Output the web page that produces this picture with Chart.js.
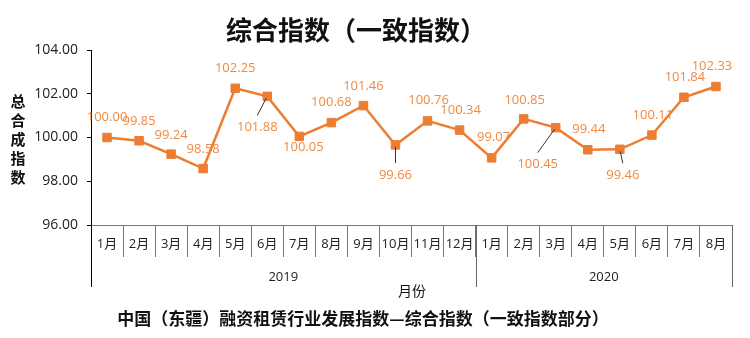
<!DOCTYPE html>
<html><head><meta charset="utf-8">
<script src="https://cdn.jsdelivr.net/npm/chart.js@4/dist/chart.umd.min.js"></script>
<style>html,body{margin:0;padding:0;background:#fff}</style>
</head><body>
<canvas id="c" width="750" height="338"></canvas>
<script>
// ---- data ----
const months = ['1月','2月','3月','4月','5月','6月','7月','8月','9月','10月','11月','12月',
                '1月','2月','3月','4月','5月','6月','7月','8月'];
const years = ['2019', '2020'];
const yearCounts = [12, 8];
const values = [100.00, 99.85, 99.24, 98.58, 102.25, 101.88, 100.05, 100.68, 101.46, 99.66,
                100.76, 100.34, 99.07, 100.85, 100.45, 99.44, 99.46, 100.11, 101.84, 102.33];
const yTicks = [96, 98, 100, 102, 104];
const chartTitle = '综合指数（一致指数）';
const bottomTitle = '中国（东疆）融资租赁行业发展指数—综合指数（一致指数部分）';
const yTitle = '总合成指数';
const xTitle = '月份';

// label placement (style only): [dx, dy, leader]
const labelPlacement = [
  [0,-20,0],[0,-19,0],[0,-19,0],[0,-19,0],[0,-20,0],[-10,31,1],[4,11,0],[0,-20,0],[0,-19,0],[0,30,1],
  [1,-21,0],[1,-20,0],[2,-21,0],[1,-19,0],[-18,37,1],[1,-20,0],[3,26,1],[1,-20,0],[1,-20,0],[-4,-20,0]
];

const ORANGE = '#ED7D31';
const LABEL = '#F08A40';
const FONT = "'Open Sans', 'Noto Sans CJK SC', sans-serif";
const CJK = "'Noto Sans CJK SC', 'Open Sans', sans-serif";

const decor = {
  id: 'decor',
  afterDraw(chart) {
    const ctx = chart.ctx;
    const x = chart.scales.x;
    const ca = chart.chartArea;
    ctx.save();
    ctx.fillStyle = '#111';
    ctx.textAlign = 'center';
    ctx.textBaseline = 'middle';
    ctx.font = 'bold 26px ' + CJK;
    ctx.fillText(chartTitle, 356, 30);
    ctx.font = 'bold 17px ' + CJK;
    ctx.fillText(bottomTitle, 363, 319);
    ctx.font = 'bold 15px ' + CJK;
    Array.from(yTitle).forEach((ch, i) => ctx.fillText(ch, 18, 101 + i * 19));
    ctx.font = '14px ' + CJK;
    ctx.fillText(xTitle, 412, 291);

    // year row
    const step = x.getPixelForValue(1) - x.getPixelForValue(0);
    const axisY = ca.bottom;
    ctx.lineWidth = 1;
    let start = 0;
    const bounds = [];
    yearCounts.forEach(n => { bounds.push(start); start += n; });
    bounds.push(start);
    bounds.forEach((b, i) => {
      const px = Math.round(x.getPixelForValue(b) - step / 2) + 0.5;
      ctx.strokeStyle = i === 0 ? '#000' : '#666';
      ctx.beginPath(); ctx.moveTo(px, axisY); ctx.lineTo(px, axisY + 62); ctx.stroke();
    });
    ctx.font = '13px ' + FONT;
    ctx.fillStyle = '#222';
    years.forEach((yr, i) => {
      const a = x.getPixelForValue(bounds[i]) - step / 2;
      const b = x.getPixelForValue(bounds[i + 1]) - step / 2;
      ctx.fillText(yr, (a + b) / 2, axisY + 52);
    });

    // data labels
    const meta = chart.getDatasetMeta(0);
    ctx.font = '13px ' + FONT;
    meta.data.forEach((pt, i) => {
      const [dx, dy, leader] = labelPlacement[i];
      const lx = pt.x + dx, ly = pt.y + dy;
      if (leader) {
        ctx.strokeStyle = '#333';
        ctx.lineWidth = 1;
        const ang = Math.atan2(ly - 12 - pt.y, lx - pt.x);
        ctx.beginPath();
        ctx.moveTo(pt.x + Math.cos(ang) * 2, pt.y + Math.sin(ang) * 2);
        ctx.lineTo(lx, ly - 12);
        ctx.stroke();
      }
      ctx.fillStyle = LABEL;
      ctx.fillText(values[i].toFixed(2), lx, ly);
    });
    ctx.restore();
  }
};

new Chart(document.getElementById('c'), {
  type: 'line',
  data: {
    labels: months,
    datasets: [{
      data: values,
      borderColor: ORANGE,
      backgroundColor: ORANGE,
      borderWidth: 2.5,
      pointStyle: 'rect',
      pointRadius: 6,
      pointBorderWidth: 1,
      pointBorderColor: ORANGE,
      pointBackgroundColor: ORANGE,
      tension: 0
    }]
  },
  options: {
    responsive: false,
    animation: false,
    devicePixelRatio: 1,
    layout: { padding: { top: 50, right: 18, left: 0, bottom: 0 } },
    plugins: { legend: { display: false }, tooltip: { enabled: false }, title: { display: false } },
    scales: {
      x: {
        type: 'category',
        offset: true,
        grid: { offset: true, drawOnChartArea: false, drawTicks: true, tickLength: 32, color: '#777', lineWidth: 1 },
        border: { display: true, color: '#777', width: 1 },
        ticks: { padding: -21, autoSkip: false, maxRotation: 0, color: '#222', font: { family: FONT, size: 13 } },
        afterFit(s) { s.height = 113; }
      },
      y: {
        min: 96, max: 104,
        afterBuildTicks(s) { s.ticks = yTicks.map(v => ({ value: v })); },
        grid: { drawOnChartArea: false, drawTicks: true, tickLength: 4, color: '#000' },
        border: { display: true, color: '#000', width: 1 },
        ticks: { padding: 9, color: '#222', font: { family: FONT, size: 14 }, callback: v => Number(v).toFixed(2) },
        afterFit(s) { s.width = 91; }
      }
    }
  },
  plugins: [decor]
});
</script>
</body></html>
